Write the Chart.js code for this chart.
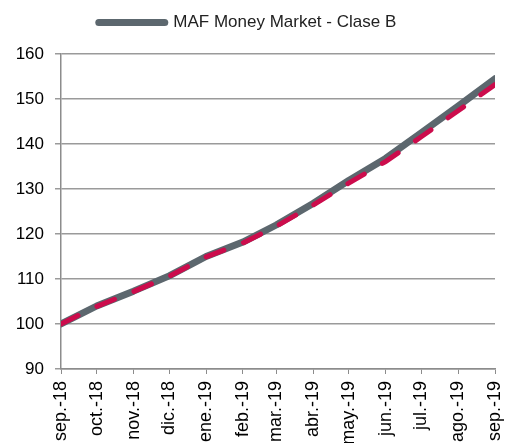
<!DOCTYPE html>
<html>
<head>
<meta charset="utf-8">
<script src="https://cdn.jsdelivr.net/npm/chart.js@4"></script>
<style>
  html, body { margin: 0; padding: 0; background: #fff; }
  #wrap { width: 509px; height: 443px; }
</style>
</head>
<body>
<div id="wrap"><canvas id="myChart" width="509" height="443"></canvas></div>
<script>
// data //
const monthLabels = ['sep.-18', 'oct.-18', 'nov.-18', 'dic.-18', 'ene.-19', 'feb.-19', 'mar.-19',
    'abr.-19', 'may.-19', 'jun.-19', 'jul.-19', 'ago.-19', 'sep.-19'];
// days since 1 sep 2018 for each month start
const monthDays = [0, 30, 61, 91, 122, 153, 181, 212, 242, 273, 303, 334, 365];
const fundValues = [100, 104, 107.3, 110.7, 115, 118.2, 122, 126.8, 131.9, 136.8, 142.5, 148.4, 154.5];
const benchValues = [100, 103.9, 107.2, 110.6, 114.9, 118, 121.7, 126.4, 131.3, 136.1, 141.6, 147.4, 153.2];
const yTicks = [90, 100, 110, 120, 130, 140, 150, 160];

const FONT = "'Liberation Sans', Arial, sans-serif";

function toPoints(values) {
    return values.map((v, i) => ({ x: monthDays[i], y: v }));
}

// push plot area down below the legend
const legendGap = {
    id: 'legendGap',
    beforeInit(chart) {
        const fit = chart.legend.fit;
        chart.legend.fit = function () {
            fit.bind(chart.legend)();
            this.height += 13;
        };
    }
};

const ctx = document.getElementById('myChart').getContext('2d');
const myChart = new Chart(ctx, {
    type: 'line',
    data: {
        datasets: [{
            label: 'MAF Money Market - Clase B',
            data: toPoints(fundValues),
            borderColor: 'rgb(92, 103, 110)',
            backgroundColor: 'rgb(92, 103, 110)',
            borderWidth: 7,
            borderCapStyle: 'round',
            borderJoinStyle: 'round',
            pointRadius: 0,
            pointStyle: 'line',
            tension: 0,
            order: 2
        }, {
            label: 'Benchmark',
            data: toPoints(benchValues),
            borderColor: 'rgb(204, 12, 76)',
            backgroundColor: 'rgb(204, 12, 76)',
            borderWidth: 5,
            borderDash: [19, 21],
            borderCapStyle: 'round',
            pointRadius: 0,
            tension: 0,
            order: 1
        }]
    },
    options: {
        responsive: false,
        animation: false,
        layout: { padding: { top: 4, right: 14, left: 0, bottom: 0 } },
        plugins: {
            legend: {
                position: 'top',
                labels: {
                    usePointStyle: true,
                    pointStyleWidth: 66,
                    color: '#222',
                    font: { family: FONT, size: 17 },
                    filter: item => item.datasetIndex === 0,
                    generateLabels: function (chart) {
                        const items = Chart.defaults.plugins.legend.labels.generateLabels(chart);
                        items.forEach(it => { it.lineCap = 'round'; });
                        return items;
                    }
                }
            },
            tooltip: { enabled: false }
        },
        scales: {
            x: {
                type: 'linear',
                min: monthDays[0],
                max: monthDays[monthDays.length - 1],
                afterBuildTicks: scale => {
                    scale.ticks = monthDays.map(d => ({ value: d }));
                },
                afterFit: scale => {
                    scale.height = 74;
                    scale.paddingRight = 0;
                },
                grid: { drawOnChartArea: false, drawTicks: true, tickLength: 5, color: '#8c8c8c' },
                border: { color: '#8c8c8c', width: 1.5 },
                ticks: {
                    autoSkip: false,
                    minRotation: 90,
                    maxRotation: 90,
                    padding: 7,
                    color: '#000',
                    font: { family: FONT, size: 18 },
                    callback: function (value) {
                        const i = monthDays.indexOf(value);
                        return i >= 0 ? monthLabels[i] : '';
                    }
                }
            },
            y: {
                min: yTicks[0],
                max: yTicks[yTicks.length - 1],
                afterBuildTicks: scale => {
                    scale.ticks = yTicks.map(v => ({ value: v }));
                },
                afterFit: scale => { scale.width = 61; },
                grid: { color: '#9a9a9a', lineWidth: 1.5, tickLength: 6 },
                border: { color: '#8c8c8c', width: 1.5 },
                ticks: {
                    padding: 11,
                    color: '#000',
                    font: { family: FONT, size: 17 }
                }
            }
        }
    },
    plugins: [legendGap]
});
</script>
</body>
</html>
